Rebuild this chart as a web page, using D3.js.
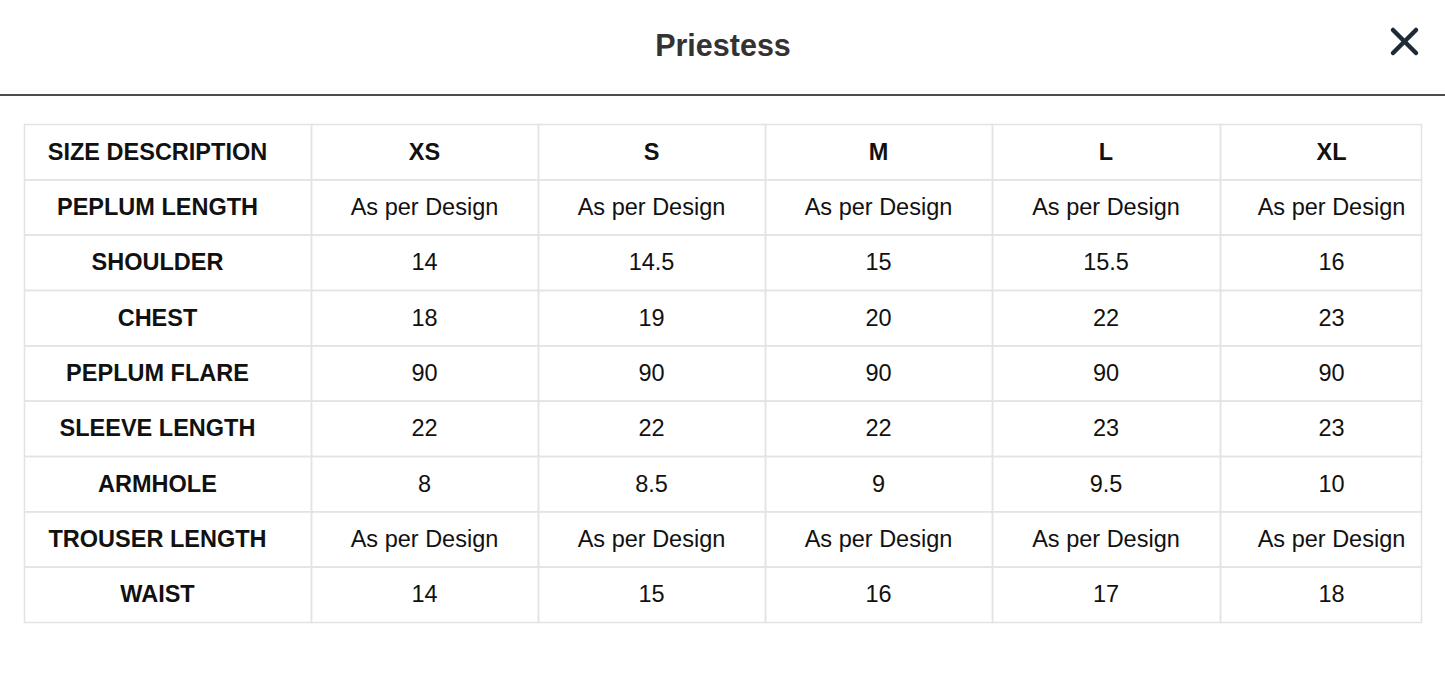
<!DOCTYPE html>
<html><head><meta charset="utf-8">
<script src="https://cdn.jsdelivr.net/npm/d3@7"></script>
<style>body{margin:0;background:#fff;font-family:"Liberation Sans",Arial,sans-serif;}</style>
</head><body>
<svg id="c" width="1445" height="678"></svg>
<script>
const title = "Priestess";
const sizes = ["XS","S","M","L","XL"];
const rowLabels = ["PEPLUM LENGTH","SHOULDER","CHEST","PEPLUM FLARE","SLEEVE LENGTH","ARMHOLE","TROUSER LENGTH","WAIST"];
const values = [
  ["As per Design","As per Design","As per Design","As per Design","As per Design"],
  ["14","14.5","15","15.5","16"],
  ["18","19","20","22","23"],
  ["90","90","90","90","90"],
  ["22","22","22","23","23"],
  ["8","8.5","9","9.5","10"],
  ["As per Design","As per Design","As per Design","As per Design","As per Design"],
  ["14","15","16","17","18"]
];
const header = ["SIZE DESCRIPTION", ...sizes];
const rows = [header, ...rowLabels.map((l,i)=>[l, ...values[i]])];

const svg = d3.select("#c");
svg.append("text").attr("x",723).attr("y",56).attr("text-anchor","middle")
  .attr("font-size",30.5).attr("font-weight","bold").attr("fill","#333").text(title);
const xg = svg.append("g").attr("stroke","#1f2a37").attr("stroke-width",4.5).attr("stroke-linecap","round");
xg.append("line").attr("x1",1393).attr("y1",30).attr("x2",1416).attr("y2",53);
xg.append("line").attr("x1",1416).attr("y1",30).attr("x2",1393).attr("y2",53);
svg.append("line").attr("x1",0).attr("x2",1445).attr("y1",95).attr("y2",95).attr("stroke","#111").attr("stroke-width",1.5);

const colW = [287,227,227,227,228,201];
const edges = d3.cumsum([0,...colW]);
const x = d3.scaleLinear().domain([0, edges[edges.length-1]]).range([24,1421]);
const y = d3.scaleBand().domain(d3.range(rows.length)).range([124,622]);
// text centre within each column (first column has right padding, last overflows slightly)
const textShift = [-10,0,0,0,0,11];
const g = svg.append("g");
rows.forEach((r,ri)=>{
  r.forEach((t,ci)=>{
    const x0 = x(edges[ci]), x1 = x(edges[ci+1]);
    g.append("rect").attr("x",x0+0.5).attr("y",y(ri)+0.5).attr("width",x1-x0).attr("height",y.bandwidth())
      .attr("fill","none").attr("stroke","#e3e3e3").attr("stroke-width",1.5);
    g.append("text").attr("x",(x0+x1)/2+textShift[ci]).attr("y",y(ri)+y.bandwidth()/2+8)
      .attr("text-anchor","middle").attr("font-size",23.5)
      .attr("font-weight",(ri===0||ci===0)?"bold":"normal").attr("fill","#111").text(t);
  });
});
</script></body></html>
